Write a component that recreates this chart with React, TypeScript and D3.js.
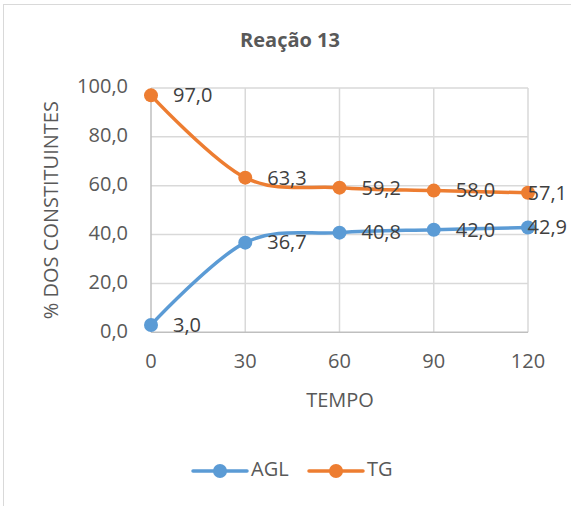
import React from "react";
import * as d3 from "d3";

const tempos = [0, 30, 60, 90, 120];
const aglValues = [3.0, 36.7, 40.8, 42.0, 42.9];
const tgValues = [97.0, 63.3, 59.2, 58.0, 57.1];
const yTickValues = [0, 20, 40, 60, 80, 100];
const seriesNames = ["AGL", "TG"];
const seriesColors = ["#5b9bd5", "#ed7d31"];
const titleText = "Reação 13";
const xAxisTitle = "TEMPO";
const yAxisTitle = "% DOS CONSTITUINTES";

const W = 571;
const H = 506;
const FONT = "'Open Sans', 'Liberation Sans', sans-serif";

export default function App() {
  const x = d3.scaleLinear().domain([0, 120]).range([151, 528]);
  const y = d3.scaleLinear().domain([0, 100]).range([332.3, 88]);
  const fmt = (v: number) => d3.format(".1f")(v).replace(".", ",");
  const line = d3
    .line<number>()
    .x((_, i) => x(tempos[i]))
    .y((d) => y(d))
    .curve(d3.curveCatmullRom.alpha(0));

  const series = [aglValues, tgValues];
  const rightLimit = 567;

  return (
    <svg
      width={W}
      height={H}
      style={{ position: "absolute", left: 0, top: 0, background: "#fff" }}
      fontFamily={FONT}
    >
      <rect x={0} y={0} width={W} height={H} fill="#fff" />
      <rect x={3.5} y={4.5} width={600} height={600} fill="none" stroke="#d9d9d9" strokeWidth={1} />
      <text x={290} y={42} textAnchor="middle" dominantBaseline="middle" fontSize={20} fontWeight="bold" fill="#595959">
        {titleText}
      </text>
      {/* gridlines */}
      {yTickValues.filter((t) => t > 0).map((t) => (
        <line key={"gy" + t} x1={x(0)} x2={x(120)} y1={y(t)} y2={y(t)} stroke="#d9d9d9" strokeWidth={1.5} />
      ))}
      {tempos.filter((t) => t > 0).map((t) => (
        <line key={"gx" + t} x1={x(t)} x2={x(t)} y1={y(0)} y2={y(100)} stroke="#d9d9d9" strokeWidth={1.5} />
      ))}
      {/* axes */}
      <line x1={x(0)} x2={x(0)} y1={y(0)} y2={y(100)} stroke="#bfbfbf" strokeWidth={1.5} />
      <line x1={x(0)} x2={x(120)} y1={y(0)} y2={y(0)} stroke="#bfbfbf" strokeWidth={1.5} />
      {/* y tick labels */}
      {yTickValues.map((t) => (
        <text key={"ty" + t} x={128} y={y(t)} textAnchor="end" dominantBaseline="middle" fontSize={20} fill="#595959">
          {fmt(t)}
        </text>
      ))}
      {/* x tick labels */}
      {tempos.map((t) => (
        <text key={"tx" + t} x={x(t)} y={363} textAnchor="middle" dominantBaseline="middle" fontSize={20} fill="#595959">
          {t}
        </text>
      ))}
      <text x={340} y={402} textAnchor="middle" dominantBaseline="middle" fontSize={20} fill="#595959">
        {xAxisTitle}
      </text>
      <text
        transform={`translate(53,${(y(0) + y(100)) / 2}) rotate(-90)`}
        textAnchor="middle"
        dominantBaseline="middle"
        fontSize={20}
        fill="#595959"
      >
        {yAxisTitle}
      </text>
      {/* series */}
      {series.map((vals, si) => (
        <g key={"s" + si}>
          <path d={line(vals) || ""} fill="none" stroke={seriesColors[si]} strokeWidth={3.5} strokeLinecap="round" />
          {vals.map((v, i) => (
            <circle key={i} cx={x(tempos[i])} cy={y(v)} r={7} fill={seriesColors[si]} />
          ))}
        </g>
      ))}
      {/* data labels */}
      {series.map((vals, si) =>
        vals.map((v, i) => {
          const px = x(tempos[i]) + 22;
          const overflow = px + 42 > rightLimit;
          return (
            <text
              key={"l" + si + "-" + i}
              x={overflow ? rightLimit : px}
              y={y(v) + 1.5}
              textAnchor={overflow ? "end" : "start"}
              dominantBaseline="middle"
              fontSize={20}
              fill="#404040"
            >
              {fmt(v)}
            </text>
          );
        })
      )}
      {/* legend */}
      {seriesNames.map((name, i) => {
        const x0 = i === 0 ? 193 : 309;
        return (
          <g key={"lg" + name}>
            <line x1={x0} x2={x0 + 54} y1={471} y2={471} stroke={seriesColors[i]} strokeWidth={3.5} strokeLinecap="round" />
            <circle cx={x0 + 27} cy={471} r={7} fill={seriesColors[i]} />
            <text x={x0 + 58} y={471} dominantBaseline="middle" fontSize={20} fill="#595959">
              {name}
            </text>
          </g>
        );
      })}
    </svg>
  );
}
